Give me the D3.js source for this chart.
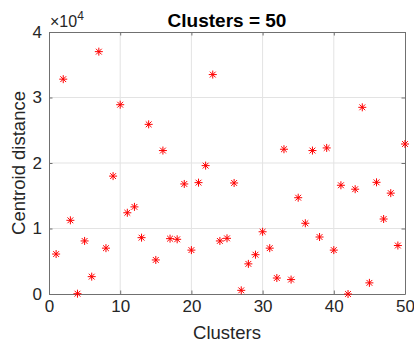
<!DOCTYPE html>
<html>
<head>
<meta charset="utf-8">
<script src="https://cdn.jsdelivr.net/npm/d3@7"></script>
<style>
  body { margin: 0; background: #fff; }
  svg { display: block; font-family: Arial, "Liberation Sans", Helvetica, sans-serif; }
</style>
</head>
<body>
<div id="chart"></div>
<script>
// centroid distance for each cluster (x 1e4)
const clusters = d3.range(1, 51);
const distances = [
  0.61, 3.28, 1.125, 0.005, 0.81, 0.265, 3.70, 0.70, 1.80, 2.89,
  1.24, 1.33, 0.86, 2.59, 0.52, 2.19, 0.845, 0.835, 1.68, 0.67,
  1.70, 1.96, 3.35, 0.81, 0.85, 1.695, 0.056, 0.46, 0.60, 0.95,
  0.70, 0.244, 2.21, 0.22, 1.47, 1.08, 2.19, 0.87, 2.23, 0.67,
  1.66, 0.0, 1.60, 2.85, 0.17, 1.705, 1.145, 1.54, 0.74, 2.29
];
const xTicks = [0, 10, 20, 30, 40, 50];
const yTicks = [0, 1, 2, 3, 4];

const width = 414;
const height = 343;
const margin = { top: 32, right: 9, bottom: 49, left: 49 };
const axisColor = '#262626';
const boxColor = '#707070';
const gridColor = '#e3e3e3';

const svg = d3.select('#chart').append('svg')
  .attr('width', width)
  .attr('height', height);

const x = d3.scaleLinear().domain([0, 50]).range([margin.left, width - margin.right]);
const y = d3.scaleLinear().domain([0, 4]).range([height - margin.bottom, margin.top]);

// grid
svg.append('g')
  .selectAll('line')
  .data(xTicks.slice(1, -1))
  .join('line')
    .attr('x1', d => x(d)).attr('x2', d => x(d))
    .attr('y1', y(0)).attr('y2', y(4))
    .attr('stroke', gridColor);

svg.append('g')
  .selectAll('line')
  .data(yTicks.slice(1, -1))
  .join('line')
    .attr('y1', d => y(d)).attr('y2', d => y(d))
    .attr('x1', x(0)).attr('x2', x(50))
    .attr('stroke', gridColor);

// axes, ticks pointing inward like matlab
function styleAxis(g) {
  g.select('.domain').attr('stroke', boxColor);
  g.selectAll('.tick line').attr('stroke', boxColor);
  g.selectAll('.tick text').attr('fill', axisColor).attr('font-size', 17);
}

svg.append('g')
  .attr('transform', `translate(0,${y(0)})`)
  .call(d3.axisBottom(x).tickValues(xTicks).tickSizeInner(-3.5).tickSizeOuter(0).tickPadding(6))
  .call(styleAxis);

svg.append('g')
  .attr('transform', `translate(0,${y(4)})`)
  .call(d3.axisTop(x).tickValues(xTicks).tickSizeInner(-3.5).tickSizeOuter(0).tickFormat(''))
  .call(styleAxis);

svg.append('g')
  .attr('transform', `translate(${x(0)},0)`)
  .call(d3.axisLeft(y).tickValues(yTicks).tickFormat(d3.format('d'))
    .tickSizeInner(-3.5).tickSizeOuter(0).tickPadding(7))
  .call(styleAxis);

svg.append('g')
  .attr('transform', `translate(${x(50)},0)`)
  .call(d3.axisRight(y).tickValues(yTicks).tickSizeInner(-3.5).tickSizeOuter(0).tickFormat(''))
  .call(styleAxis);

// exponent label
const expo = svg.append('text')
  .attr('x', x(0) + 1)
  .attr('y', 27)
  .attr('fill', axisColor)
  .attr('font-size', 16);
expo.append('tspan').text('\u00d710');
expo.append('tspan').attr('dy', -7).attr('font-size', 12).text('4');

// asterisk markers
const r = 4;
const d = 2.9;
svg.append('g')
  .attr('stroke', '#ff0000')
  .attr('stroke-width', 1)
  .selectAll('path')
  .data(clusters.map((c, i) => [c, distances[i]]))
  .join('path')
    .attr('d', p => {
      const cx = x(p[0]), cy = y(p[1]);
      return `M${cx - r},${cy}H${cx + r}M${cx},${cy - r}V${cy + r}` +
        `M${cx - d},${cy - d}L${cx + d},${cy + d}M${cx - d},${cy + d}L${cx + d},${cy - d}`;
    });

// title and labels
svg.append('text')
  .attr('x', (x(0) + x(50)) / 2)
  .attr('y', 27)
  .attr('text-anchor', 'middle')
  .attr('font-weight', 'bold')
  .attr('font-size', 19)
  .attr('fill', '#000')
  .text('Clusters = 50');

svg.append('text')
  .attr('x', (x(0) + x(50)) / 2)
  .attr('y', 339)
  .attr('text-anchor', 'middle')
  .attr('font-size', 18.5)
  .attr('fill', axisColor)
  .text('Clusters');

svg.append('text')
  .attr('transform', `translate(25,${(y(0) + y(4)) / 2}) rotate(-90)`)
  .attr('text-anchor', 'middle')
  .attr('font-size', 18.5)
  .attr('fill', axisColor)
  .text('Centroid distance');
</script>
</body>
</html>
